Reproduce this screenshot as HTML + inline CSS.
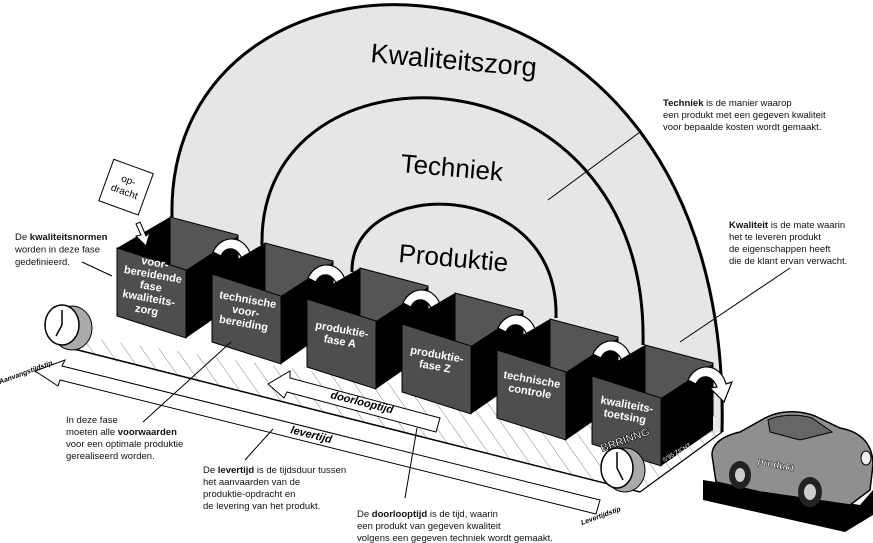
<!DOCTYPE html>
<html><head><meta charset="utf-8"><style>
html,body{margin:0;padding:0;background:#fff}
svg{display:block}
text{font-family:"Liberation Sans",sans-serif}
.a{font-size:9.5px;fill:#111}
.b{font-weight:bold}
.bx{font-size:11px;font-weight:bold;fill:#fff;text-anchor:middle}
</style></head><body>
<svg width="873" height="543" viewBox="0 0 873 543" xmlns="http://www.w3.org/2000/svg">
<defs>
<pattern id="h" width="14" height="14" patternUnits="userSpaceOnUse" patternTransform="rotate(-35)">
<line x1="0" y1="0" x2="0" y2="14" stroke="#666" stroke-width="0.8"/>
</pattern>
<g id="box">
<polygon points="53,-31 121,-13 121,40 53,22" fill="#555" stroke="#000"/>
<polygon points="0,0 53,-31 53,30 0,60" fill="#000"/>
<polygon points="69,22 121,-12 121,54 69,90" fill="#000"/>
<polygon points="0,0 69,22 69,90 0,68" fill="#4e4e4e" stroke="#000" stroke-width="1"/>
<path d="M96,4 C104,-14 128,-14 134,8 L140,6 L132,26 L118,12 L125,11 C120,-2 108,-2 104,8 Z" fill="#fff" stroke="#000" stroke-width="1.2"/>
</g>
</defs>
<path d="M172,217 C165,-95 735,-95 722,432 L640,440 L172,260 Z" fill="#e6e6e6"/>
<path d="M172,217 C165,-95 735,-95 722,432" fill="none" stroke="#000" stroke-width="3"/>
<path d="M262,245 C258,30 650,40 643,345" fill="none" stroke="#000" stroke-width="3"/>
<path d="M352,272 C350,175 560,175 556,318" fill="none" stroke="#000" stroke-width="3"/>
<text x="370" y="62" font-size="27" transform="rotate(5 370 62)">Kwaliteitszorg</text>
<text x="400" y="172" font-size="26" transform="rotate(5 400 172)">Techniek</text>
<text x="398" y="262" font-size="26" transform="rotate(5 398 262)">Produktie</text>
<polygon points="70,335 720,432 640,492 62,348" fill="url(#h)"/>
<line x1="62" y1="346" x2="640" y2="492" stroke="#000" stroke-width="1.5"/>
<line x1="640" y1="492" x2="722" y2="432" stroke="#000" stroke-width="1.2"/>
<path d="M35,371 L65,360 L62,366 L600,500 L596,514 L60,380 L58,386 Z" fill="#fff" stroke="#000" stroke-width="1"/>
<text x="290" y="433" font-size="11" font-weight="bold" font-style="italic" transform="rotate(14 290 433)">levertijd</text>
<path d="M268,384 L290,371 L290,378 L440,418 L436,432 L287,392 L284,398 Z" fill="#fff" stroke="#000" stroke-width="1"/>
<text x="330" y="398" font-size="11" font-weight="bold" font-style="italic" transform="rotate(14 330 398)">doorlooptijd</text>
<use href="#box" x="117" y="248"/>
<use href="#box" x="212" y="274"/>
<use href="#box" x="307" y="299"/>
<use href="#box" x="402" y="324"/>
<use href="#box" x="497" y="350"/>
<use href="#box" x="592" y="376"/>
<g transform="rotate(10 152 280)">
<text class="bx" x="152" y="266">voor-</text><text class="bx" x="152" y="278">bereidende</text><text class="bx" x="152" y="290">fase</text><text class="bx" x="152" y="302">kwaliteits-</text><text class="bx" x="152" y="314">zorg</text></g>
<g transform="rotate(10 246 310)"><text class="bx" x="246" y="303">technische</text><text class="bx" x="246" y="315">voor-</text><text class="bx" x="246" y="327">bereiding</text></g>
<g transform="rotate(10 341 335)"><text class="bx" x="341" y="333">produktie-</text><text class="bx" x="341" y="345">fase A</text></g>
<g transform="rotate(10 436 360)"><text class="bx" x="436" y="358">produktie-</text><text class="bx" x="436" y="370">fase Z</text></g>
<g transform="rotate(10 531 385)"><text class="bx" x="531" y="383">technische</text><text class="bx" x="531" y="395">controle</text></g>
<g transform="rotate(10 626 410)"><text class="bx" x="626" y="408">kwaliteits-</text><text class="bx" x="626" y="420">toetsing</text></g>
<text x="664" y="462" font-size="6" fill="#fff" transform="rotate(-30 664 462)">©'95 ZICHT</text>
<g transform="rotate(20 125 190)">
<rect x="104" y="165" width="42" height="44" fill="#fff" stroke="#000"/>
<text x="125" y="183" font-size="10" text-anchor="middle">op-</text>
<text x="125" y="195" font-size="10" text-anchor="middle">dracht</text>
</g>
<path d="M140,222 L146,236 L150,232 L146,246 L136,236 L141,235 L136,224 Z" fill="#fff" stroke="#000"/>
<ellipse cx="72" cy="328" rx="20" ry="22" fill="#aaa" stroke="#000"/>
<ellipse cx="62" cy="325" rx="17" ry="20" fill="#fff" stroke="#000" stroke-width="1.5"/>
<line x1="62" y1="325" x2="62" y2="310" stroke="#000" stroke-width="1.5"/><line x1="62" y1="325" x2="56" y2="336" stroke="#000" stroke-width="1.5"/>
<ellipse cx="625" cy="470" rx="20" ry="22" fill="#aaa" stroke="#000"/>
<ellipse cx="617" cy="468" rx="16" ry="20" fill="#fff" stroke="#000" stroke-width="1.5"/>
<line x1="617" y1="468" x2="617" y2="452" stroke="#000" stroke-width="1.5"/><line x1="617" y1="468" x2="623" y2="480" stroke="#000" stroke-width="1.5"/>
<text x="602" y="452" font-size="11" font-weight="bold" fill="#fff" stroke="#000" stroke-width="0.6" transform="rotate(-20 602 452)">BRRINNG</text>
<text x="0" y="384" font-size="7" font-weight="bold" font-style="italic" transform="rotate(-20 0 384)">Aanvangstijdstip</text>
<text x="582" y="525" font-size="7" font-weight="bold" font-style="italic" transform="rotate(-20 582 525)">Levertijdstip</text>
<polygon points="703,480 860,505 873,490 873,515 845,532 703,500" fill="#000"/>
<path d="M712,455 C712,444 722,436 740,432 L765,418 C780,410 800,410 815,416 L840,428 C862,432 873,445 873,465 L870,490 L850,505 L760,492 L716,482 Z" fill="#8f8f8f" stroke="#000" stroke-width="1.5"/>
<path d="M768,420 C780,414 800,414 812,418 L832,432 L800,440 L770,432 Z" fill="#666" stroke="#000"/>
<ellipse cx="866" cy="458" rx="5" ry="7" fill="#eee" stroke="#000"/>
<ellipse cx="740" cy="475" rx="11" ry="14" fill="#222"/><ellipse cx="740" cy="475" rx="5" ry="7" fill="#ccc"/>
<ellipse cx="810" cy="492" rx="12" ry="15" fill="#222"/><ellipse cx="810" cy="492" rx="6" ry="8" fill="#ccc"/>
<text x="757" y="464" font-size="10" font-weight="bold" fill="#fff" stroke="#000" stroke-width="0.4" transform="rotate(12 757 464)">produkt</text>
<text class="a" x="15" y="240"><tspan>De </tspan><tspan class="b">kwaliteitsnormen</tspan><tspan x="15" dy="12.5">worden in deze fase</tspan><tspan x="15" dy="12.5">gedefinieerd.</tspan></text>
<line x1="82" y1="262" x2="112" y2="276" stroke="#000"/>
<text class="a" x="66" y="423"><tspan>In deze fase</tspan><tspan x="66" dy="12">moeten alle </tspan><tspan class="b">voorwaarden</tspan><tspan x="66" dy="12">voor een optimale produktie</tspan><tspan x="66" dy="12">gerealiseerd worden.</tspan></text>
<line x1="143" y1="422" x2="231" y2="342" stroke="#000"/>
<text class="a" x="203" y="473"><tspan>De </tspan><tspan class="b">levertijd</tspan><tspan> is de tijdsduur tussen</tspan><tspan x="203" dy="12">het aanvaarden van de</tspan><tspan x="203" dy="12">produktie-opdracht en</tspan><tspan x="203" dy="12">de levering van het produkt.</tspan></text>
<line x1="245" y1="460" x2="273" y2="429" stroke="#000"/>
<text class="a" x="357" y="517"><tspan>De </tspan><tspan class="b">doorlooptijd</tspan><tspan> is de tijd, waarin</tspan><tspan x="357" dy="12">een produkt van gegeven kwaliteit</tspan><tspan x="357" dy="12">volgens een gegeven techniek wordt gemaakt.</tspan></text>
<line x1="405" y1="498" x2="417" y2="428" stroke="#000"/>
<text class="a" x="663" y="106"><tspan class="b">Techniek</tspan><tspan> is de manier waarop</tspan><tspan x="663" dy="12">een produkt met een gegeven kwaliteit</tspan><tspan x="663" dy="12">voor bepaalde kosten wordt gemaakt.</tspan></text>
<line x1="640" y1="132" x2="548" y2="200" stroke="#000"/>
<text class="a" x="729" y="228"><tspan class="b">Kwaliteit</tspan><tspan> is de mate waarin</tspan><tspan x="729" dy="12">het te leveren produkt</tspan><tspan x="729" dy="12">de eigenschappen heeft</tspan><tspan x="729" dy="12">die de klant ervan verwacht.</tspan></text>
<line x1="790" y1="268" x2="680" y2="342" stroke="#000"/>
</svg>
</body></html>
